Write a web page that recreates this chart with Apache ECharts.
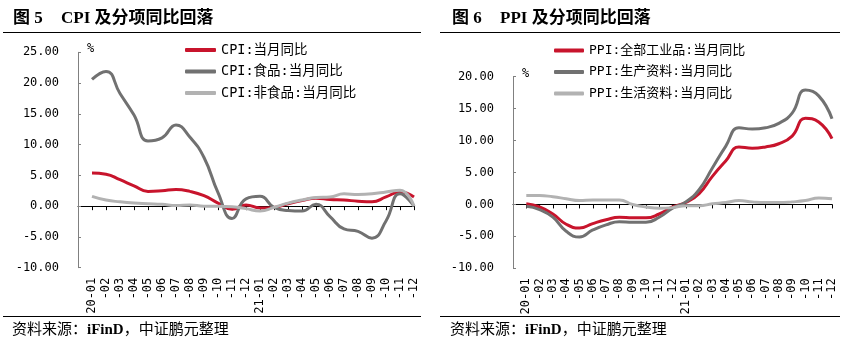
<!DOCTYPE html>
<html><head><meta charset="utf-8">
<script src="https://cdn.jsdelivr.net/npm/echarts@6/dist/echarts.min.js"></script>
<style>html,body{margin:0;padding:0;background:#fff}#c{width:849px;height:344px}</style>
</head><body><div id="c"></div>
<script>
// ---- data ----
const months = ['20-01','-02','-03','-04','-05','-06','-07','-08','-09','-10','-11','-12',
                '21-01','-02','-03','-04','-05','-06','-07','-08','-09','-10','-11','-12'];
const cpiTotal   = [5.4,5.2,4.3,3.3,2.4,2.5,2.7,2.4,1.7,0.5,-0.5,0.2,-0.3,-0.2,0.4,0.9,1.3,1.1,1.0,0.8,0.7,1.5,2.3,1.5];
const cpiFood    = [20.6,21.9,18.3,14.8,10.6,11.1,13.2,11.2,7.9,2.2,-2.0,1.2,1.6,-0.2,-0.7,-0.8,0.3,-1.7,-3.7,-4.1,-5.2,-2.4,2.0,0.0];
const cpiNonFood = [1.6,1.0,0.7,0.5,0.4,0.3,0.1,0.2,0.0,0.0,-0.1,-0.4,-0.8,-0.2,0.5,1.0,1.4,1.5,2.0,1.9,2.0,2.3,2.6,0.0];
const ppiAll      = [0.1,-0.4,-1.5,-3.1,-3.7,-3.0,-2.4,-2.0,-2.1,-2.1,-1.5,-0.4,0.3,1.7,4.4,6.8,9.0,8.8,9.0,9.5,10.7,13.5,12.9,10.3];
const ppiProducer = [-0.3,-0.8,-2.0,-4.2,-5.1,-4.0,-3.2,-2.7,-2.8,-2.8,-2.0,-0.6,0.4,2.3,5.7,9.1,12.0,11.8,12.0,12.7,14.3,17.9,17.0,13.4];
const ppiConsumer = [1.4,1.4,1.2,0.9,0.6,0.7,0.7,0.7,0.0,-0.4,-0.6,-0.5,-0.2,-0.2,0.1,0.3,0.6,0.4,0.3,0.3,0.4,0.6,1.0,0.9];
const cpiNames = ['CPI:当月同比','CPI:食品:当月同比','CPI:非食品:当月同比'];
const ppiNames = ['PPI:全部工业品:当月同比','PPI:生产资料:当月同比','PPI:生活资料:当月同比'];
const cpiYTicks = [-10, -5, 0, 5, 10, 15, 20, 25];
const ppiYTicks = [-10, -5, 0, 5, 10, 15, 20];
const titles = [['图 5', 'CPI 及分项同比回落'], ['图 6', 'PPI 及分项同比回落']];
const sourceText = ['资料来源：', 'iFinD', '，中证鹏元整理'];

// ---- styles ----
const colors = ['#C8142C', '#717171', '#B2B2B2'];
const mono = "'DejaVu Sans Mono', 'Noto Sans CJK SC', monospace";
const serif = "'Liberation Serif', 'Noto Sans CJK SC', serif";
const axisCats = [''].concat(months);
const pad = arr => [null].concat(arr);

function makeAxes(gi) {
  return [
    { type: 'category', gridIndex: gi, data: axisCats, boundaryGap: false,
      axisLine: { onZero: true, lineStyle: { color: '#000', width: 1 } },
      axisTick: { show: true, interval: i => i > 0, length: 4, lineStyle: { color: '#000' } },
      axisLabel: { show: false }, splitLine: { show: false } },
    { type: 'category', gridIndex: gi, data: axisCats, boundaryGap: false, position: 'bottom',
      axisLine: { show: false, onZero: false }, axisTick: { show: false },
      axisLabel: { show: true, interval: 0, rotate: 90, margin: 10, fontFamily: mono, fontSize: 12, color: '#000' },
      splitLine: { show: false } }
  ];
}
function makeY(gi, ticks) {
  return { type: 'value', gridIndex: gi, min: ticks[0], max: ticks[ticks.length - 1], interval: ticks[1] - ticks[0],
    name: '%', nameLocation: 'end', nameGap: 3,
    nameTextStyle: { fontFamily: mono, fontSize: 12, color: '#000', align: 'left', verticalAlign: 'middle', padding: [0, 0, 0, 9] },
    axisLine: { show: true, lineStyle: { color: '#808080', width: 1 } },
    axisTick: { show: true, inside: true, length: 3, lineStyle: { color: '#808080' } },
    axisLabel: { margin: 19, fontFamily: mono, fontSize: 12, color: '#000', formatter: v => v.toFixed(2) },
    splitLine: { show: false } };
}
function line(name, data, xi, yi, c) {
  return { name, type: 'line', xAxisIndex: xi, yAxisIndex: yi, data: pad(data), smooth: 0.5,
    symbol: 'none', lineStyle: { width: 3, color: c }, itemStyle: { color: c }, z: 3 };
}
function legend(names, left, top, iw, fs) {
  return { data: names, orient: 'vertical', left, top, icon: 'roundRect', itemWidth: iw, itemHeight: 4,
    itemGap: 5.5, textStyle: { fontFamily: mono, fontSize: fs, color: '#000', lineHeight: 16 }, selectedMode: false };
}
function titleGraphic(t, x1, x2) {
  return [
    { type: 'text', left: x1, top: 10, style: { text: t[0], font: 'bold 17px ' + serif, fill: '#000' } },
    { type: 'text', left: x2, top: 10, style: { text: t[1], font: 'bold 17px ' + serif, fill: '#000' } }
  ];
}
function hline(x1, x2, y) {
  return { type: 'line', shape: { x1, y1: y, x2, y2: y }, style: { stroke: '#000', lineWidth: 1 } };
}
function source(x) {
  return { type: 'text', left: x, top: 323, style: {
    text: '{a|' + sourceText[0] + '}{b|' + sourceText[1] + '}{a|' + sourceText[2] + '}',
    rich: { a: { font: '15px ' + serif, fill: '#000' }, b: { font: 'bold 15px ' + serif, fill: '#000' } } } };
}

const chart = echarts.init(document.getElementById('c'), null, { renderer: 'canvas' });
chart.setOption({
  backgroundColor: '#fff',
  animation: false,
  grid: [
    { left: 78, right: 435, top: 52.3, bottom: 76.3 },
    { left: 513, right: 17, top: 76.7, bottom: 75.7 }
  ],
  xAxis: makeAxes(0).concat(makeAxes(1)),
  yAxis: [makeY(0, cpiYTicks), makeY(1, ppiYTicks)],
  legend: [legend(cpiNames, 180, 37, 31, 13.5), legend(ppiNames, 549, 37.5, 30, 13)],
  series: [
    line(cpiNames[0], cpiTotal, 0, 0, colors[0]),
    line(cpiNames[1], cpiFood, 0, 0, colors[1]),
    line(cpiNames[2], cpiNonFood, 0, 0, colors[2]),
    line(ppiNames[0], ppiAll, 2, 1, colors[0]),
    line(ppiNames[1], ppiProducer, 2, 1, colors[1]),
    line(ppiNames[2], ppiConsumer, 2, 1, colors[2])
  ],
  graphic: [
    ...titleGraphic(titles[0], 13, 61),
    ...titleGraphic(titles[1], 452, 500),
    hline(3, 421, 32.5), hline(440, 840, 32.5),
    hline(3, 421, 316.5), hline(440, 840, 316.5),
    source(12), source(450)
  ]
});
</script></body></html>
